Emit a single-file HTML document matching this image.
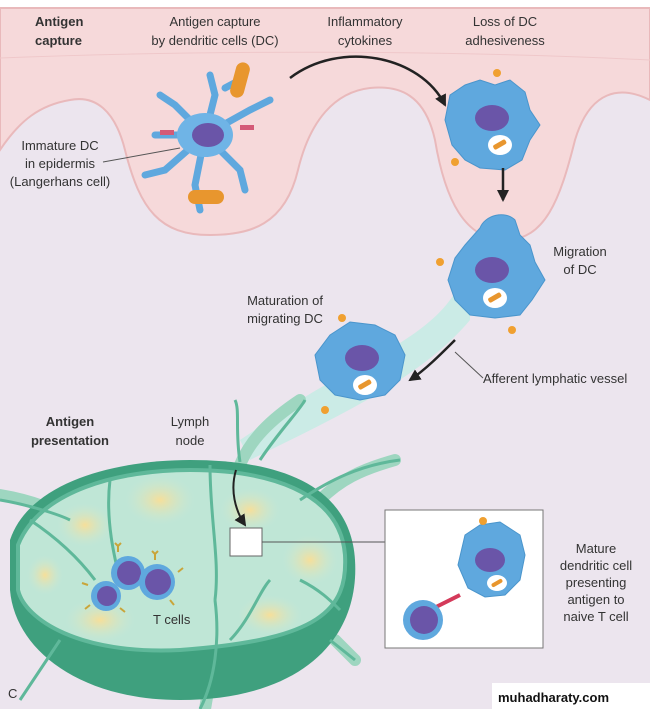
<!DOCTYPE html>
<html><head><style>
html,body{margin:0;padding:0;background:#ece5ee;}
svg{display:block}
text{font-family:"Liberation Sans",sans-serif;font-size:13px;fill:#333}
.b{font-weight:bold}
</style></head><body>
<svg width="650" height="709" viewBox="0 0 650 709">
<defs>
<marker id="ar" markerUnits="userSpaceOnUse" markerWidth="14" markerHeight="14" refX="10" refY="7" orient="auto"><path d="M0,1 L12,7 L0,13 Z" fill="#222"/></marker>
<radialGradient id="yel"><stop offset="0" stop-color="#f6df9a"/><stop offset="1" stop-color="#cfe9d3" stop-opacity="0"/></radialGradient>
</defs>
<rect width="650" height="709" fill="#ece5ee"/>
<rect width="650" height="8" fill="#fff"/>
<path d="M0,8 H650 V100 C620,85 590,90 575,140 C560,200 545,240 505,240 C465,240 445,200 435,140 C425,95 400,85 370,88 C335,92 310,120 298,170 C285,225 250,235 210,235 C160,235 140,210 125,150 C115,110 95,95 70,100 C40,105 20,120 0,150 Z" fill="#f6d9da" stroke="#e9b9bb" stroke-width="2"/>
<path d="M0,58 C200,50 450,50 650,60" fill="none" stroke="#efc8ca" stroke-width="1"/>
<text x="35" y="26" class="b">Antigen</text><text x="35" y="45" class="b">capture</text>
<text x="215" y="26" text-anchor="middle">Antigen capture</text><text x="215" y="45" text-anchor="middle">by dendritic cells (DC)</text>
<text x="365" y="26" text-anchor="middle">Inflammatory</text><text x="365" y="45" text-anchor="middle">cytokines</text>
<text x="505" y="26" text-anchor="middle">Loss of DC</text><text x="505" y="45" text-anchor="middle">adhesiveness</text>
<text x="60" y="150" text-anchor="middle">Immature DC</text><text x="60" y="168" text-anchor="middle">in epidermis</text><text x="60" y="186" text-anchor="middle">(Langerhans cell)</text>
<line x1="103" y1="162" x2="180" y2="148" stroke="#555"/>
<g stroke="#5fa8de" stroke-width="7" stroke-linecap="round" fill="none">
<path d="M205,135 L175,105 L160,95"/><path d="M205,135 L215,95 L210,75"/><path d="M205,135 L250,110 L270,100"/><path d="M205,135 L165,170 L145,175"/><path d="M205,135 L195,185 L200,210"/><path d="M205,135 L240,170 L245,190"/><path d="M205,135 L155,135"/><path d="M225,88 L240,80"/>
</g>
<ellipse cx="205" cy="135" rx="28" ry="22" fill="#6fb4e6"/>
<ellipse cx="208" cy="135" rx="16" ry="12" fill="#6a55a8"/>
<rect x="233" y="62" width="14" height="36" rx="7" fill="#e8962e" transform="rotate(15 240 80)"/>
<rect x="188" y="190" width="36" height="14" rx="7" fill="#e8962e"/>
<rect x="160" y="130" width="14" height="5" fill="#d45a77"/><rect x="240" y="125" width="14" height="5" fill="#d45a77"/>
<path d="M290,78 C340,40 420,55 445,105" fill="none" stroke="#222" stroke-width="2.5" marker-end="url(#ar)"/>
<path d="M450,95 L465,85 L480,80 L495,85 L510,80 L525,92 L530,110 L540,125 L530,140 L522,160 L505,170 L480,168 L465,160 L452,145 L445,120 Z" fill="#5fa8de" stroke="#4a95cc"/>
<ellipse cx="492" cy="118" rx="17" ry="13" fill="#6a55a8"/>
<ellipse cx="500" cy="145" rx="12" ry="10" fill="#fff"/><rect x="493" y="142" width="14" height="5" rx="2" fill="#e8962e" transform="rotate(-30 500 145)"/>
<circle cx="497" cy="73" r="4" fill="#f0a030"/><circle cx="455" cy="162" r="4" fill="#f0a030"/>
<path d="M503,168 L503,200" stroke="#222" stroke-width="2.5" marker-end="url(#ar)"/>
<path d="M470,255 C455,330 380,350 300,400 L240,440 L250,460 C330,420 420,380 470,320 Z" fill="#c8ebe4" opacity="0.9"/>
<path d="M480,228 C485,215 505,210 515,220 L520,235 L530,245 L535,262 L545,280 L532,300 L520,315 L495,318 L470,315 L455,300 L448,280 L455,258 L465,245 Z" fill="#5fa8de" stroke="#4a95cc"/>
<ellipse cx="492" cy="270" rx="17" ry="13" fill="#6a55a8"/>
<ellipse cx="495" cy="298" rx="12" ry="10" fill="#fff"/><rect x="488" y="295" width="14" height="5" rx="2" fill="#e8962e" transform="rotate(-30 495 298)"/>
<circle cx="440" cy="262" r="4" fill="#f0a030"/><circle cx="512" cy="330" r="4" fill="#f0a030"/>
<text x="580" y="256" text-anchor="middle">Migration</text><text x="580" y="274" text-anchor="middle">of DC</text>
<path d="M330,335 L350,322 L375,325 L395,335 L405,355 L400,380 L385,395 L360,400 L335,395 L320,380 L315,355 Z" fill="#5fa8de" stroke="#4a95cc"/>
<ellipse cx="362" cy="358" rx="17" ry="13" fill="#6a55a8"/>
<ellipse cx="365" cy="385" rx="12" ry="10" fill="#fff"/><rect x="358" y="382" width="14" height="5" rx="2" fill="#e8962e" transform="rotate(-30 365 385)"/>
<circle cx="342" cy="318" r="4" fill="#f0a030"/><circle cx="325" cy="410" r="4" fill="#f0a030"/>
<text x="285" y="305" text-anchor="middle">Maturation of</text><text x="285" y="323" text-anchor="middle">migrating DC</text>
<path d="M455,340 C440,355 425,370 410,380" fill="none" stroke="#222" stroke-width="2.5" marker-end="url(#ar)"/>
<text x="483" y="383">Afferent lymphatic vessel</text>
<line x1="455" y1="352" x2="483" y2="378" stroke="#555"/>
<text x="70" y="426" text-anchor="middle" class="b">Antigen</text><text x="70" y="445" text-anchor="middle" class="b">presentation</text>
<text x="190" y="426" text-anchor="middle">Lymph</text><text x="190" y="445" text-anchor="middle">node</text>
<!-- vessel stubs -->
<g stroke="#9ed6c0" stroke-width="12" fill="none" stroke-linecap="round">
<path d="M0,495 C30,500 60,510 75,525"/><path d="M300,400 C270,420 250,440 240,465"/><path d="M395,460 C360,470 340,480 320,500"/><path d="M335,640 L355,660"/><path d="M210,680 L205,709"/>
</g>
<path d="M10,540 C30,480 120,460 190,460 C270,460 350,480 355,560 C360,640 300,700 180,700 C80,700 15,650 10,590 Z" fill="#3fa07e"/>
<path d="M18,545 C40,490 120,470 190,470 C265,470 340,490 345,555 C348,610 320,640 180,650 C80,655 25,620 18,590 Z" fill="#bfe6d6" stroke="#5fb89a" stroke-width="4"/>
<g fill="url(#yel)">
<ellipse cx="160" cy="500" rx="35" ry="25"/><ellipse cx="85" cy="525" rx="28" ry="22"/><ellipse cx="250" cy="510" rx="30" ry="22"/>
<ellipse cx="310" cy="560" rx="28" ry="25"/><ellipse cx="45" cy="575" rx="18" ry="20"/><ellipse cx="100" cy="620" rx="35" ry="22"/><ellipse cx="270" cy="615" rx="32" ry="20"/>
</g>
<g stroke="#5fb89a" stroke-width="3" fill="none">
<path d="M110,480 C105,520 115,560 120,580"/><path d="M210,465 C210,520 220,560 215,600"/><path d="M30,520 C60,540 80,560 95,580"/>
<path d="M215,600 C220,640 215,680 200,709"/><path d="M230,640 C250,620 260,590 270,580"/><path d="M300,580 C320,590 330,600 340,610"/>
<path d="M0,500 C30,505 60,515 70,520"/><path d="M260,460 C280,430 300,410 305,400"/><path d="M240,462 C235,430 240,410 235,400"/>
<path d="M300,500 C330,480 360,465 400,460"/>
<path d="M20,700 L60,640"/><path d="M330,640 L355,660"/>
</g>
<g>
<circle cx="128" cy="573" r="17" fill="#5fa8de"/><circle cx="129" cy="573" r="12" fill="#6a55a8"/>
<circle cx="157" cy="582" r="18" fill="#5fa8de"/><circle cx="158" cy="582" r="13" fill="#6a55a8"/>
<circle cx="106" cy="596" r="15" fill="#5fa8de"/><circle cx="107" cy="596" r="10" fill="#6a55a8"/>
</g>
<g stroke="#c9a53a" stroke-width="2" fill="none">
<path d="M118,552 v-6 m0,0 l-3,-3 m3,3 l3,-3"/><path d="M155,560 v-6 m0,0 l-3,-3 m3,3 l3,-3"/><path d="M178,572 l5,-4"/><path d="M90,605 l-5,4"/><path d="M120,608 l5,4"/><path d="M88,585 l-6,-2"/><path d="M170,600 l4,5"/>
</g>
<text x="153" y="624">T cells</text>
<text x="8" y="698" font-size="15">C</text>
<path d="M236,470 C230,490 235,510 245,525" fill="none" stroke="#222" stroke-width="2" marker-end="url(#ar)"/>
<rect x="230" y="528" width="32" height="28" fill="#fff" stroke="#666"/>
<line x1="262" y1="542" x2="385" y2="542" stroke="#555"/>
<rect x="385" y="510" width="158" height="138" fill="#fff" stroke="#777"/>
<path d="M465,535 L480,525 L500,522 L520,535 L525,555 L520,580 L505,595 L485,597 L468,588 L458,565 Z" fill="#5fa8de" stroke="#4a95cc"/>
<ellipse cx="490" cy="560" rx="15" ry="12" fill="#6a55a8"/>
<ellipse cx="497" cy="583" rx="10" ry="8" fill="#fff"/><rect x="491" y="581" width="12" height="4" rx="2" fill="#e8962e" transform="rotate(-30 497 583)"/>
<circle cx="483" cy="521" r="4" fill="#f0a030"/>
<line x1="430" y1="610" x2="460" y2="595" stroke="#d43a5a" stroke-width="4"/>
<circle cx="423" cy="620" r="20" fill="#5fa8de"/><circle cx="424" cy="620" r="14" fill="#6a55a8"/>
<text x="596" y="553" text-anchor="middle">Mature</text><text x="596" y="570" text-anchor="middle">dendritic cell</text><text x="596" y="587" text-anchor="middle">presenting</text><text x="596" y="604" text-anchor="middle">antigen to</text><text x="596" y="621" text-anchor="middle">naive T cell</text>
<rect x="492" y="683" width="158" height="26" fill="#fff"/>
<text x="498" y="702" font-size="17" class="b" style="fill:#111">muhadharaty.com</text>
</svg>
</body></html>
